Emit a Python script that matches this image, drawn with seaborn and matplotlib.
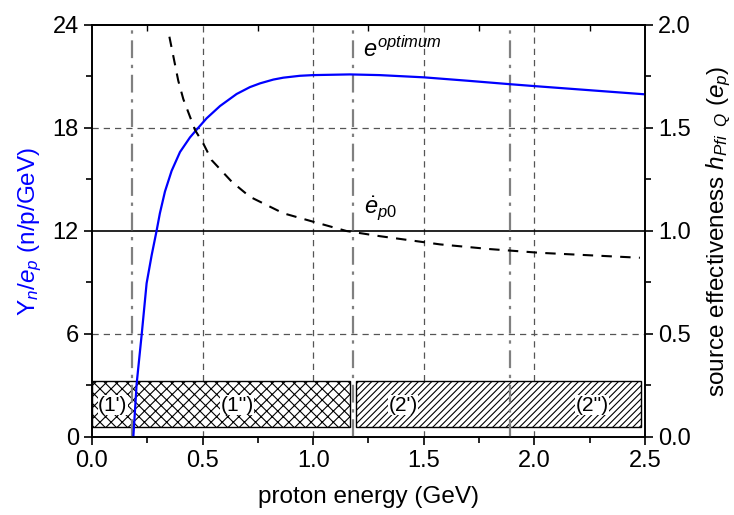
import numpy as np
import pandas as pd
import matplotlib
matplotlib.use("Agg")
import matplotlib.pyplot as plt
import seaborn as sns
from matplotlib.patches import Rectangle
import matplotlib.ticker as mticker

# data
energy_yield = [0.187, 0.202, 0.225, 0.247, 0.270, 0.292, 0.307, 0.330, 0.360,
                0.398, 0.443, 0.473, 0.518, 0.579, 0.654, 0.714, 0.760, 0.820,
                0.865, 0.940, 1.000, 1.166, 1.300, 1.500, 1.700, 1.890, 2.000,
                2.250, 2.500]
yield_per_gev = [0.0, 3.1, 6.0, 8.95, 10.6, 12.0, 13.03, 14.3, 15.5,
                 16.6, 17.45, 17.9, 18.56, 19.28, 19.98, 20.38, 20.6, 20.82,
                 20.93, 21.04, 21.08, 21.12, 21.08, 20.95, 20.75, 20.55, 20.44,
                 20.2, 19.96]

energy_eff = [0.350, 0.375, 0.390, 0.413, 0.466, 0.503, 0.541, 0.632, 0.714,
              0.865, 1.000, 1.150, 1.300, 1.573, 1.800, 2.025, 2.250, 2.477]
effectiveness = [1.943, 1.81, 1.73, 1.64, 1.49, 1.425, 1.344, 1.239, 1.166,
                 1.086, 1.045, 1.0, 0.975, 0.935, 0.912, 0.894, 0.882, 0.870]

region_bounds = [0.18, 1.18, 1.89]
boxes = [(0.0, 1.166, "xxx"), (1.194, 2.48, "/////")]
box_labels = ["(1')", "(1'')", "(2')", "(2'')"]
box_label_x = [0.094, 0.657, 1.406, 2.26]

sns.set_style("ticks")
plt.rcParams["font.family"] = ["Liberation Sans", "DejaVu Sans"]
plt.rcParams["hatch.linewidth"] = 0.8
plt.rcParams["mathtext.fontset"] = "custom"
plt.rcParams["mathtext.it"] = "Liberation Sans:italic"
plt.rcParams["mathtext.rm"] = "Liberation Sans"
for k in ["text.color", "axes.labelcolor", "xtick.color", "ytick.color",
          "axes.edgecolor"]:
    plt.rcParams[k] = "black"

fig = plt.figure(figsize=(7.34, 5.15), dpi=100)
ax = fig.add_axes([0.1253, 0.1515, 0.7534, 0.80])
ax2 = ax.twinx()

df_y = pd.DataFrame({"E": energy_yield, "Y": yield_per_gev})
df_e = pd.DataFrame({"E": energy_eff, "eta": effectiveness})

# grid
for gx in [0.5, 1.0, 1.5, 2.0]:
    ax.axvline(gx, color="#555555", lw=0.9, ls=(0, (5, 4)), zorder=1)
for gy in [6, 18]:
    ax.axhline(gy, color="#555555", lw=0.9, ls=(0, (5, 4)), zorder=1)
ax.axhline(12, color="black", lw=1.2, zorder=2)

# hatched regions
for x0, x1, h in boxes:
    ax.add_patch(Rectangle((x0, 0.6), x1 - x0, 2.68, facecolor="white",
                           edgecolor="black", hatch=h, lw=1.0, zorder=3))
for lab, lx in zip(box_labels, box_label_x):
    ax.text(lx, 1.85, lab, ha="center", va="center", fontsize=15, zorder=4,
            bbox=dict(facecolor="white", edgecolor="none", pad=0.3))

for bx in region_bounds:
    ax.axvline(bx, color="gray", lw=1.6, ls=(0, (8, 3, 1.5, 3)), zorder=4)

sns.lineplot(data=df_y, x="E", y="Y", ax=ax, color="blue", lw=1.6, zorder=5)
sns.lineplot(data=df_e, x="E", y="eta", ax=ax2, color="black", lw=1.5,
             ls=(0, (5, 4)), zorder=5)

ax.text(1.225, 22.15, r"$e^{optimum}$", fontsize=17)
ax.text(1.23, 13.05, r"$\dot{e}_{p0}$", fontsize=17)

ax.set_xlim(0, 2.5)
ax.set_ylim(0, 24)
ax2.set_ylim(0, 2.0)
ax.set_xticks([0.0, 0.5, 1.0, 1.5, 2.0, 2.5])
ax.xaxis.set_major_formatter(mticker.FormatStrFormatter("%.1f"))
ax.xaxis.set_minor_locator(mticker.MultipleLocator(0.25))
ax.set_yticks([0, 6, 12, 18, 24])
ax.yaxis.set_minor_locator(mticker.MultipleLocator(3))
ax2.set_yticks([0.0, 0.5, 1.0, 1.5, 2.0])
ax2.yaxis.set_major_formatter(mticker.FormatStrFormatter("%.1f"))
ax2.yaxis.set_minor_locator(mticker.MultipleLocator(0.25))

ax.tick_params(which="both", direction="out", labelsize=17, width=1.2)
ax.tick_params(which="major", length=6)
ax.tick_params(which="minor", length=4)
ax2.tick_params(which="both", direction="out", labelsize=17, width=1.2)
ax2.tick_params(which="major", length=6)
ax2.tick_params(which="minor", length=4)

# inward ticks on the top spine
top = ax.secondary_xaxis("top")
top.set_xticks([0.0, 0.5, 1.0, 1.5, 2.0, 2.5])
top.xaxis.set_minor_locator(mticker.MultipleLocator(0.25))
top.tick_params(which="both", direction="in", labeltop=False, width=1.0)
top.tick_params(which="major", length=0)
top.tick_params(which="minor", length=4)
top.spines["top"].set_linewidth(1.2)

for a in (ax, ax2):
    for s in a.spines.values():
        s.set_linewidth(1.2)
        s.set_visible(True)

ax.set_xlabel("proton energy (GeV)", fontsize=17.5, labelpad=10)
ax.set_ylabel(r"Y$_n$/$e_p$ (n/p/GeV)", fontsize=17.5, color="blue", labelpad=6)
ax2.set_ylabel(r"source effectiveness $h_{Pfi\ \ Q}$ ($e_p$)", fontsize=17.5,
               labelpad=10)

fig.savefig("out.png", dpi=100)
